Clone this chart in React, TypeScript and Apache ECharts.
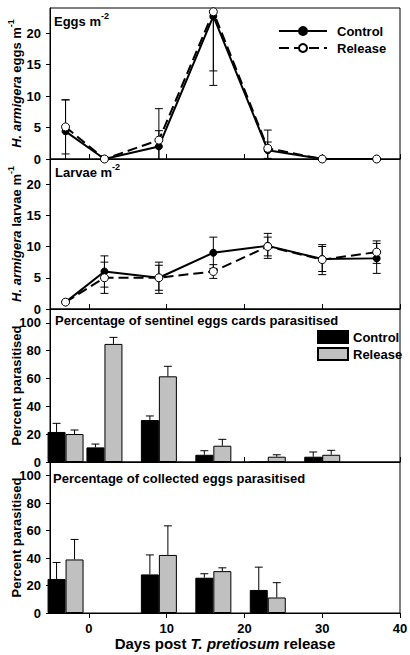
import React, { useEffect, useRef } from 'react';
import * as echarts from 'echarts';

const FONT = '"Liberation Sans", Arial, Helvetica, sans-serif';

// ---- data ----
const days = [-3, 2, 9, 16, 23, 30, 37];
const eggsControl = [4.4, 0, 2.0, 22.7, 1.4, 0, 0];
const eggsControlSE = [5.0, 0, 2.5, 8.7, 1.3, 0, 0];
const eggsRelease = [5.1, 0, 3.0, 23.4, 1.7, 0, 0];
const eggsReleaseSE = [4.3, 0, 5.0, 11.7, 2.9, 0, 0];

const larvaeControl = [1.1, 6.0, 5.0, 9.0, 10.1, 8.0, 8.1];
const larvaeControlSE = [0, 2.5, 2.5, 2.5, 2.0, 2.0, 2.4];
const larvaeRelease = [1.1, 5.0, 5.0, 6.0, 10.0, 7.9, 9.1];
const larvaeReleaseSE = [0, 2.5, 2.0, 1.1, 1.5, 2.4, 1.8];

const cardDays = [-3, 2, 9, 16, 23, 30];
const cardControl = [21.6, 10.5, 30.2, 5.2, 0, 3.8];
const cardControlSE = [6.2, 2.4, 2.9, 2.9, 0, 3.4];
const cardRelease = [20.1, 84.9, 61.6, 11.7, 3.8, 5.2];
const cardReleaseSE = [2.9, 4.7, 7.2, 4.6, 1.4, 3.2];

const collDays = [-3, 9, 16, 23];
const collControl = [24.8, 28.1, 25.7, 16.8];
const collControlSE = [12.0, 14.2, 2.9, 16.6];
const collRelease = [39.0, 42.3, 30.5, 11.3];
const collReleaseSE = [14.6, 21.2, 2.4, 10.8];

const xTicks = [0, 10, 20, 30, 40];
const countTicks = [0, 5, 10, 15, 20];
const pctTicks = [0, 20, 40, 60, 80, 100];

const xMin = -5;
const xMax = 40;
const countMax = 24;
const pctMax = 110;

// ---- helpers ----
const zip = (xs: number[], ys: number[]) => xs.map((x, i) => [x, ys[i]]);
const zip3 = (xs: number[], ys: number[], es: number[]) => xs.map((x, i) => [x, ys[i], es[i]]);

const errorBars = (offset: number, both: boolean) => (params: any, api: any) => {
  const e = api.value(2);
  if (!e) return null;
  const x = api.value(0);
  const y = api.value(1);
  const hi = api.coord([x, y + e]);
  const lo = api.coord([x, both ? y - e : y]);
  const px = hi[0] + offset;
  const cap = 4;
  const style = { stroke: '#000', lineWidth: 1 };
  const children: any[] = [
    { type: 'line', shape: { x1: px, y1: hi[1], x2: px, y2: lo[1] }, style },
    { type: 'line', shape: { x1: px - cap, y1: hi[1], x2: px + cap, y2: hi[1] }, style },
  ];
  if (both) {
    children.push({ type: 'line', shape: { x1: px - cap, y1: lo[1], x2: px + cap, y2: lo[1] }, style });
  }
  return { type: 'group', children };
};

const labelStyle = { color: '#000', fontWeight: 'bold' as const, fontSize: 13, fontFamily: FONT };
const supRich = {
  i: { fontStyle: 'italic', fontWeight: 'bold', fontSize: 13, fontFamily: FONT, color: '#000', lineHeight: 20 },
  b: { fontWeight: 'bold', fontSize: 13, fontFamily: FONT, color: '#000', lineHeight: 20 },
  sup: { fontWeight: 'bold', fontSize: 9, fontFamily: FONT, color: '#000', lineHeight: 9, verticalAlign: 'top' },
};

const panels = [
  { top: 8, height: 151 },
  { top: 159, height: 150 },
  { top: 309, height: 153 },
  { top: 462, height: 151 },
];

export default function App() {
  const ref = useRef<HTMLDivElement>(null);

  useEffect(() => {
    document.body.style.margin = '0';
    if (!ref.current) return;
    const chart = echarts.init(ref.current, undefined, { renderer: 'svg' });

    const grids = panels.map((p) => ({
      left: 50,
      right: 10,
      top: p.top,
      height: p.height,
      show: true,
      borderColor: '#000',
      borderWidth: 1,
      backgroundColor: 'transparent',
      outerBoundsMode: 'none',
      containLabel: false,
    }));

    const xAxes = panels.map((_, i) => {
      const last = i === panels.length - 1;
      return {
        type: 'value',
        gridIndex: i,
        min: xMin,
        max: xMax,
        axisLine: { show: true, onZero: false, lineStyle: { color: '#000', width: 1 } },
        axisTick: {
          show: true,
          inside: !last,
          length: 5,
          customValues: xTicks,
          lineStyle: { color: '#000', width: 1 },
        },
        axisLabel: last
          ? { show: true, customValues: xTicks, margin: 9, lineHeight: 13, ...labelStyle }
          : { show: false },
        splitLine: { show: false },
        name: last ? 'Days post {i|T. pretiosum} release' : '',
        nameLocation: 'middle',
        nameGap: 23,
        nameMoveOverlap: false,
        nameTextStyle: {
          fontSize: 15,
          fontWeight: 'bold',
          fontFamily: FONT,
          color: '#000',
          lineHeight: 15,
          rich: {
            i: { fontSize: 15, fontWeight: 'bold', fontStyle: 'italic', fontFamily: FONT, color: '#000', lineHeight: 15 },
          },
        },
      };
    });

    const yNames = [
      '{i|H. armigera}{b| eggs m}{sup|-1}',
      '{i|H. armigera}{b| larvae m}{sup|-1}',
      '{b|Percent parasitised}',
      '{b|Percent parasitised}',
    ];

    const yAxes = panels.map((_, i) => {
      const isCount = i < 2;
      return {
        type: 'value',
        gridIndex: i,
        min: 0,
        max: isCount ? countMax : pctMax,
        axisLine: { show: true, onZero: false, lineStyle: { color: '#000', width: 1 } },
        axisTick: {
          show: true,
          inside: false,
          length: 4,
          customValues: isCount ? countTicks : pctTicks,
          lineStyle: { color: '#000', width: 1 },
        },
        axisLabel: {
          show: true,
          customValues: isCount ? countTicks : pctTicks,
          margin: 9,
          ...labelStyle,
        },
        splitLine: { show: false },
        name: yNames[i],
        nameLocation: 'middle',
        nameRotate: 90,
        nameGap: 24,
        nameMoveOverlap: false,
        nameTextStyle: { rich: supRich },
      };
    });

    const lineSeries = (name: string, gi: number, ys: number[], filled: boolean) => ({
      type: 'line',
      name,
      xAxisIndex: gi,
      yAxisIndex: gi,
      data: zip(days, ys),
      symbol: 'circle',
      symbolSize: filled ? 7 : 8,
      showSymbol: true,
      z: filled ? 3 : 4,
      lineStyle: { color: '#000', width: 2, type: filled ? 'solid' : [10, 5] },
      itemStyle: { color: filled ? '#000' : '#fff', borderColor: '#000', borderWidth: 1 },
      clip: true,
    });

    const errSeries = (gi: number, xs: number[], ys: number[], es: number[], offset: number, both: boolean) => ({
      type: 'custom',
      xAxisIndex: gi,
      yAxisIndex: gi,
      data: zip3(xs, ys, es),
      encode: { x: 0, y: 1 },
      renderItem: errorBars(offset, both),
      clip: true,
      z: both ? 2 : 5,
      silent: true,
    });

    const barSeries = (name: string, gi: number, xs: number[], ys: number[], color: string) => ({
      type: 'bar',
      name,
      xAxisIndex: gi,
      yAxisIndex: gi,
      data: zip(xs, ys),
      barWidth: 18,
      barGap: '0%',
      clip: true,
      z: 3,
      itemStyle: { color, borderColor: '#000', borderWidth: 1 },
    });

    const titleText = (text: string, x: number, y: number) => ({
      type: 'text',
      x,
      y,
      z: 10,
      style: {
        text,
        fill: '#000',
        fontSize: 13,
        fontWeight: 'bold',
        fontFamily: FONT,
        verticalAlign: 'middle',
        align: 'left',
        rich: supRich,
      },
    });

    const option: any = {
      animation: false,
      backgroundColor: '#fff',
      grid: grids,
      xAxis: xAxes,
      yAxis: yAxes,
      legend: [
        {
          data: ['Control', 'Release'],
          orient: 'vertical',
          left: 273,
          top: 19,
          itemWidth: 48,
          itemHeight: 10,
          itemGap: 3,
          selectedMode: false,
          textStyle: { ...labelStyle, lineHeight: 14, padding: [0, 0, 0, 5] },
        },
        {
          data: ['Control cards', 'Release cards'],
          orient: 'vertical',
          left: 312,
          top: 325,
          itemWidth: 30,
          itemHeight: 12,
          itemGap: 3,
          icon: 'rect',
          selectedMode: false,
          formatter: (n: string) => n.split(' ')[0],
          textStyle: { ...labelStyle, lineHeight: 14 },
        },
      ],
      graphic: [
        titleText('{b|Eggs m}{sup|-2}', 54, 21),
        titleText('{b|Larvae m}{sup|-2}', 55, 172),
        titleText('{b|Percentage of sentinel eggs cards parasitised}', 55, 320),
        titleText('{b|Percentage of collected eggs parasitised}', 53, 478),
      ],
      series: [
        errSeries(0, days, eggsControl, eggsControlSE, 0, true),
        errSeries(0, days, eggsRelease, eggsReleaseSE, 0, true),
        lineSeries('Control', 0, eggsControl, true),
        lineSeries('Release', 0, eggsRelease, false),

        errSeries(1, days, larvaeControl, larvaeControlSE, 0, true),
        errSeries(1, days, larvaeRelease, larvaeReleaseSE, 0, true),
        lineSeries('Control', 1, larvaeControl, true),
        lineSeries('Release', 1, larvaeRelease, false),

        barSeries('Control cards', 2, cardDays, cardControl, '#000'),
        barSeries('Release cards', 2, cardDays, cardRelease, '#c0c0c0'),
        errSeries(2, cardDays, cardControl, cardControlSE, -9, false),
        errSeries(2, cardDays, cardRelease, cardReleaseSE, 9, false),

        barSeries('Control collected', 3, collDays, collControl, '#000'),
        barSeries('Release collected', 3, collDays, collRelease, '#c0c0c0'),
        errSeries(3, collDays, collControl, collControlSE, -9, false),
        errSeries(3, collDays, collRelease, collReleaseSE, 9, false),
      ],
    };

    chart.setOption(option);
    return () => chart.dispose();
  }, []);

  return <div ref={ref} style={{ width: 410, height: 655 }} />;
}
